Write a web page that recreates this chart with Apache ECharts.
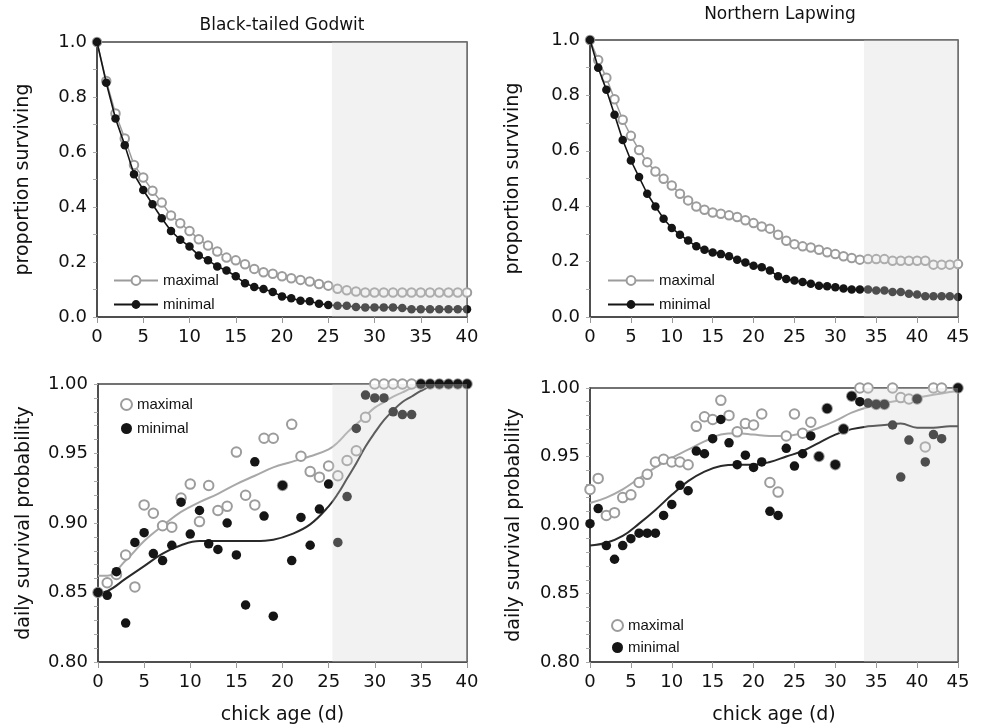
<!DOCTYPE html>
<html><head><meta charset="utf-8">
<script src="https://cdn.jsdelivr.net/npm/echarts@6/dist/echarts.min.js"></script>
<style>html,body{margin:0;padding:0;background:#fff}#c{width:983px;height:728px}</style>
</head><body><div id="c"></div>
<script>
// ---------- data ----------
const daysGodwit = [0,1,2,3,4,5,6,7,8,9,10,11,12,13,14,15,16,17,18,19,20,21,22,23,24,25,26,27,28,29,30,31,32,33,34,35,36,37,38,39,40];
const daysLapwing = [0,1,2,3,4,5,6,7,8,9,10,11,12,13,14,15,16,17,18,19,20,21,22,23,24,25,26,27,28,29,30,31,32,33,34,35,36,37,38,39,40,41,42,43,44,45];

const godwitPropMax = [1.0,0.858,0.740,0.649,0.553,0.507,0.459,0.416,0.369,0.341,0.313,0.283,0.260,0.238,0.216,0.206,0.192,0.175,0.163,0.157,0.148,0.141,0.135,0.129,0.120,0.114,0.103,0.097,0.093,0.089,0.089,0.089,0.089,0.089,0.089,0.089,0.089,0.089,0.089,0.089,0.089];
const godwitPropMin = [1.0,0.852,0.722,0.625,0.519,0.462,0.410,0.359,0.313,0.281,0.256,0.224,0.206,0.184,0.169,0.148,0.123,0.109,0.102,0.091,0.075,0.068,0.059,0.057,0.048,0.044,0.041,0.041,0.036,0.035,0.035,0.035,0.035,0.033,0.028,0.028,0.028,0.028,0.028,0.028,0.028];

const lapwingPropMax = [1.0,0.928,0.864,0.786,0.712,0.654,0.603,0.559,0.525,0.499,0.475,0.445,0.421,0.399,0.387,0.377,0.373,0.367,0.361,0.349,0.339,0.327,0.319,0.297,0.275,0.263,0.255,0.251,0.243,0.234,0.227,0.219,0.213,0.207,0.209,0.209,0.209,0.203,0.203,0.203,0.203,0.203,0.189,0.189,0.189,0.191];
const lapwingPropMin = [1.0,0.900,0.820,0.730,0.639,0.565,0.505,0.445,0.399,0.355,0.321,0.297,0.276,0.255,0.243,0.233,0.227,0.219,0.207,0.197,0.185,0.180,0.168,0.147,0.137,0.132,0.126,0.120,0.113,0.111,0.107,0.103,0.099,0.099,0.099,0.096,0.096,0.090,0.090,0.084,0.081,0.075,0.075,0.075,0.075,0.072];

const godwitDailyMax = [0.850,0.857,0.863,0.877,0.854,0.913,0.907,0.898,0.897,0.918,0.928,0.901,0.927,0.909,0.912,0.951,0.920,0.913,0.961,0.961,0.927,0.971,0.948,0.937,0.933,0.941,0.934,0.945,0.952,0.976,1,1,1,1,1,1,1,1,1,1,1];
const godwitDailyMin = [0.850,0.848,0.865,0.828,0.886,0.893,0.878,0.873,0.884,0.915,0.892,0.909,0.885,0.881,0.900,0.877,0.841,0.944,0.905,0.833,0.927,0.873,0.904,0.884,0.910,0.928,0.886,0.919,0.968,0.992,0.990,0.990,0.980,0.978,0.978,1,1,1,1,1,1];

const lapwingDailyMax = [0.926,0.934,0.907,0.909,0.920,0.922,0.931,0.937,0.946,0.948,0.946,0.946,0.944,0.972,0.979,0.977,0.991,0.980,0.968,0.974,0.973,0.981,0.931,0.924,0.965,0.981,0.967,0.975,0.950,0.985,0.944,0.970,0.994,1,1,0.988,0.988,1,0.993,0.992,0.992,0.957,1,1,null,1];
const lapwingDailyMin = [0.901,0.912,0.885,0.875,0.885,0.890,0.894,0.894,0.894,0.907,0.915,0.929,0.925,0.954,0.952,0.963,0.977,0.960,0.944,0.951,0.942,0.946,0.910,0.907,0.956,0.943,0.952,0.965,0.950,0.985,0.944,0.970,0.994,0.990,0.989,0.988,0.988,0.973,0.935,0.962,0.992,0.946,0.966,0.963,null,1];

const fitDaysGodwit = [0,1,3,5,7,9,11,13,15,17,19,21,23,25,26,27,28,29,30,31,32,33,34,35,36,38,40];
const godwitFitMax = [0.862,0.862,0.873,0.887,0.898,0.908,0.915,0.921,0.928,0.934,0.940,0.944,0.948,0.953,0.958,0.965,0.971,0.977,0.983,0.987,0.991,0.994,0.997,0.999,1.0,1.0,1.0];
const godwitFitMin = [0.850,0.851,0.860,0.869,0.878,0.884,0.887,0.887,0.887,0.887,0.888,0.892,0.899,0.912,0.921,0.932,0.943,0.955,0.965,0.974,0.981,0.987,0.991,0.995,0.998,1.0,1.0];

const fitDaysLapwing = [0,2,4,6,8,10,12,14,16,18,20,22,24,26,28,30,32,34,36,38,40,42,44,45];
const lapwingFitMax = [0.916,0.920,0.926,0.934,0.942,0.949,0.955,0.961,0.966,0.967,0.966,0.965,0.965,0.967,0.971,0.976,0.982,0.986,0.989,0.991,0.993,0.995,0.997,0.998];
const lapwingFitMin = [0.885,0.887,0.892,0.901,0.911,0.922,0.932,0.939,0.943,0.944,0.944,0.946,0.950,0.954,0.960,0.966,0.970,0.972,0.973,0.974,0.971,0.971,0.972,0.972];

const shadeGodwit = [25.4, 40];
const shadeLapwing = [33.5, 45];

const titles = ['Black-tailed Godwit', 'Northern Lapwing'];
const xName = 'chick age (d)';
const yNameTop = 'proportion surviving';
const yNameBottom = 'daily survival probability';

// ---------- helpers ----------
const FONT = 'DejaVu Sans';
const GRAY = '#9c9c9c', BLACK = '#151515';
const pairs = (xs, ys) => xs.map((x, i) => [x, ys[i]]).filter(p => p[1] !== null);

function xAxis(gi, max, named) {
  return {
    type: 'value', gridIndex: gi, min: 0, max: max, interval: 5,
    axisLine: { show: true, onZero: false, lineStyle: { color: '#444', width: 1.5 } },
    axisTick: { show: true, length: 6, lineStyle: { color: '#999' } },
    splitLine: { show: false },
    axisLabel: { margin: 11, color: '#111', fontFamily: FONT, fontSize: 18 },
    name: named ? xName : '', nameLocation: 'middle', nameGap: 44,
    nameTextStyle: { color: '#111', fontFamily: FONT, fontSize: 19 }
  };
}
function yAxis(gi, top, gap) {
  return {
    type: 'value', gridIndex: gi,
    min: top ? 0 : 0.8, max: 1, interval: top ? 0.2 : 0.05,
    axisLine: { show: true, onZero: false, lineStyle: { color: '#444', width: 1.5 } },
    axisTick: { show: true, length: 4, lineStyle: { color: '#aaa' } },
    minorTick: { show: true, splitNumber: top ? 2 : 5, length: 4, lineStyle: { color: '#aaa' } },
    splitLine: { show: false },
    axisLabel: { margin: 10, color: '#111', fontFamily: FONT, fontSize: 18,
      formatter: v => v.toFixed(top ? 1 : 2) },
    name: top ? yNameTop : yNameBottom, nameLocation: 'middle', nameGap: gap,
    nameTextStyle: { color: '#111', fontFamily: FONT, fontSize: 19 }
  };
}
function shade(gi, range) {
  return {
    type: 'custom', xAxisIndex: gi, yAxisIndex: gi, z: 10, silent: true,
    encode: { x: [0, 1] },
    data: [range],
    renderItem: (params, api) => {
      const cs = params.coordSys;
      const x0 = api.coord([api.value(0), 1])[0];
      const x1 = api.coord([api.value(1), 1])[0];
      return { type: 'rect', shape: { x: x0, y: cs.y, width: x1 - x0, height: cs.height },
        style: { fill: 'rgba(213,213,213,0.30)' } };
    }
  };
}
function propSeries(gi, days, maxV, minV) {
  return [
    { name: 'maximal', type: 'line', xAxisIndex: gi, yAxisIndex: gi, data: pairs(days, maxV),
      symbol: 'emptyCircle', symbolSize: 8.5, z: 2,
      lineStyle: { color: GRAY, width: 1.5 },
      itemStyle: { color: GRAY, borderColor: GRAY, borderWidth: 1.5 } },
    { name: 'minimal', type: 'line', xAxisIndex: gi, yAxisIndex: gi, data: pairs(days, minV),
      symbol: 'circle', symbolSize: 8.5, z: 3,
      lineStyle: { color: BLACK, width: 1.6 },
      itemStyle: { color: BLACK } }
  ];
}
function dailySeries(gi, days, maxV, minV, fitDays, fitMax, fitMin) {
  return [
    { name: 'fitmax' + gi, type: 'line', xAxisIndex: gi, yAxisIndex: gi, data: pairs(fitDays, fitMax),
      symbol: 'none', smooth: 0.4, z: 2, lineStyle: { color: '#a8a8a8', width: 2 } },
    { name: 'fitmin' + gi, type: 'line', xAxisIndex: gi, yAxisIndex: gi, data: pairs(fitDays, fitMin),
      symbol: 'none', smooth: 0.4, z: 2, lineStyle: { color: '#2a2a2a', width: 2 } },
    { name: 'maximal (daily)', type: 'scatter', xAxisIndex: gi, yAxisIndex: gi, data: pairs(days, maxV),
      symbol: 'emptyCircle', symbolSize: 9.5, z: 3,
      itemStyle: { color: GRAY, borderColor: GRAY, borderWidth: 1.6, opacity: 1 } },
    { name: 'minimal (daily)', type: 'scatter', xAxisIndex: gi, yAxisIndex: gi, data: pairs(days, minV),
      symbol: 'circle', symbolSize: 9.5, z: 4,
      itemStyle: { color: BLACK, opacity: 1 } }
  ];
}
const legendText = { fontFamily: 'Liberation Sans', fontSize: 15, color: '#111' };

const option = {
  animation: false,
  backgroundColor: '#fff',
  title: [
    { text: titles[0], left: 282, top: 17, textAlign: 'center', padding: 0,
      textStyle: { fontFamily: FONT, fontSize: 17, fontWeight: 'normal', color: '#111' } },
    { text: titles[1], left: 780, top: 6, textAlign: 'center', padding: 0,
      textStyle: { fontFamily: FONT, fontSize: 17, fontWeight: 'normal', color: '#111' } }
  ],
  grid: [
    { left: 97, top: 42, width: 370, height: 275, show: true, borderColor: '#444', borderWidth: 1.5 },
    { left: 590, top: 40, width: 368, height: 277, show: true, borderColor: '#444', borderWidth: 1.5 },
    { left: 98, top: 384, width: 369, height: 278, show: true, borderColor: '#444', borderWidth: 1.5 },
    { left: 590, top: 388, width: 368, height: 274, show: true, borderColor: '#444', borderWidth: 1.5 }
  ],
  xAxis: [xAxis(0, 40, false), xAxis(1, 45, false), xAxis(2, 40, true), xAxis(3, 45, true)],
  yAxis: [yAxis(0, true, 64), yAxis(1, true, 67), yAxis(2, false, 64), yAxis(3, false, 66)],
  legend: [
    { left: 108, top: 268, orient: 'vertical', itemWidth: 44, itemHeight: 11, itemGap: 9,
      selectedMode: false, data: ['maximal', 'minimal'], textStyle: legendText },
    { left: 602, top: 268, orient: 'vertical', itemWidth: 46, itemHeight: 11, itemGap: 9,
      selectedMode: false, data: ['maximal', 'minimal'], textStyle: legendText },
    { left: 115, top: 392, orient: 'vertical', itemWidth: 11, itemHeight: 11, itemGap: 9,
      selectedMode: false, data: ['maximal (daily)', 'minimal (daily)'], textStyle: legendText,
      formatter: n => n.split(' ')[0] },
    { left: 606, top: 613, orient: 'vertical', itemWidth: 11, itemHeight: 11, itemGap: 7,
      selectedMode: false, data: ['maximal (daily)', 'minimal (daily)'], textStyle: legendText,
      formatter: n => n.split(' ')[0] }
  ],
  series: [].concat(
    propSeries(0, daysGodwit, godwitPropMax, godwitPropMin),
    propSeries(1, daysLapwing, lapwingPropMax, lapwingPropMin),
    dailySeries(2, daysGodwit, godwitDailyMax, godwitDailyMin, fitDaysGodwit, godwitFitMax, godwitFitMin),
    dailySeries(3, daysLapwing, lapwingDailyMax, lapwingDailyMin, fitDaysLapwing, lapwingFitMax, lapwingFitMin),
    [shade(0, shadeGodwit), shade(1, shadeLapwing), shade(2, shadeGodwit), shade(3, shadeLapwing)]
  )
};
const chart = echarts.init(document.getElementById('c'), null, { renderer: 'canvas' });
chart.setOption(option);
</script></body></html>
